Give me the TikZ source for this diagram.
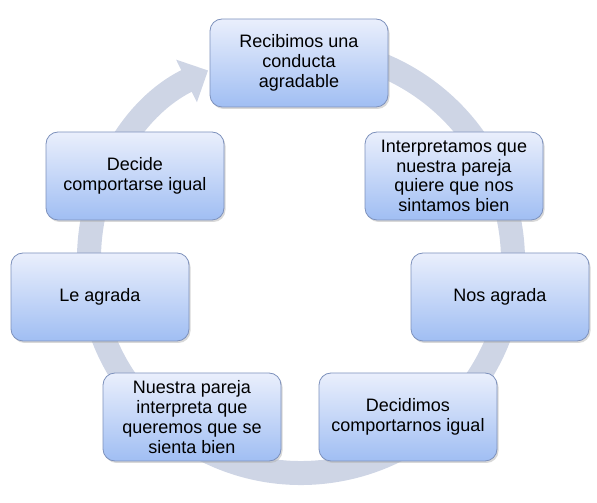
\documentclass[tikz,border=0pt]{standalone}
\usepackage{fontspec}
\setmainfont{Liberation Sans}
\usepackage{xcolor}
\usetikzlibrary{arrows.meta, shadows}

\definecolor{ringgray}{RGB}{206,213,229}
\definecolor{boxtop}{RGB}{234,239,252}
\definecolor{boxbot}{RGB}{160,190,243}
\definecolor{boxline}{RGB}{125,145,188}

\begin{document}
\begin{tikzpicture}[
    x=1pt, y=1pt,
    font=\fontsize{18}{19.8}\selectfont,
    cyclebox/.style ={draw=boxline, line width=0.8pt, rounded corners=12pt,
                      align=center, minimum width=178pt, minimum height=88pt,
                      inner sep=2pt, top color=boxtop, bottom color=boxbot,
                      drop shadow={shadow xshift=1.5pt, shadow yshift=-2pt,
                                   fill=black!30, opacity=0.5}},
    ring/.style     ={draw=ringgray, line width=24pt,
                      -{Triangle[width=46pt, length=24pt]}}
]
\useasboundingbox (0,0) rectangle (597,503);

% Circular arrow behind the boxes
\coordinate (mid) at (301,242);
\draw[ring] (mid) ++(100:212) arc[start angle=100, end angle=-244, radius=212];

% Steps of the cycle, clockwise from the top
\node[cyclebox] (recibe)     at (299,440) {Recibimos una\\conducta\\agradable};
\node[cyclebox] (interpreta) at (454,327) {Interpretamos que\\nuestra pareja\\quiere que nos\\sintamos bien};
\node[cyclebox] (agrada)     at (500,206) {Nos agrada};
\node[cyclebox] (decidimos)  at (408,86)  {Decidimos\\comportarnos igual};
\node[cyclebox] (pareja)     at (192,86)  {Nuestra pareja\\interpreta que\\queremos que se\\sienta bien};
\node[cyclebox] (leagrada)   at (100,206) {Le agrada};
\node[cyclebox] (decide)     at (135,327) {Decide\\comportarse igual};

\end{tikzpicture}
\end{document}
